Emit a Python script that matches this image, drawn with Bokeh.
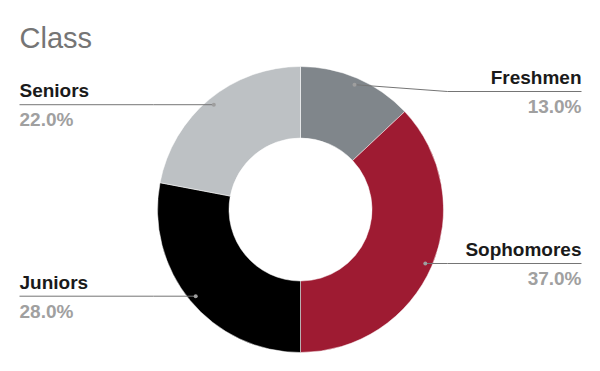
import math
from bokeh.plotting import figure
from bokeh.models import Range1d, ColumnDataSource
from bokeh.core.properties import value
from bokeh.embed import file_html
from bokeh.resources import INLINE

# ---- data ----
classes = ["Freshmen", "Sophomores", "Juniors", "Seniors"]
shares = [13.0, 37.0, 28.0, 22.0]
colors = ["#80868b", "#9e1b32", "#000000", "#bdc1c4"]
title_text = "Class"

# ---- layout ----
W, H = 600, 371
cx, cy_screen = 300, 209
cy = H - cy_screen
R_out, R_in = 143, 71.5
R_dot = 136
left_x, right_x = 19, 581
min_label_y_screen = 91
FONT = "Liberation Sans"

p = figure(width=W, height=H, output_backend="svg", toolbar_location=None,
           x_range=Range1d(0, W), y_range=Range1d(0, H),
           x_axis_location=None, y_axis_location=None, min_border=0)
p.grid.visible = False
p.outline_line_color = None
p.background_fill_color = "white"

total = sum(shares)
starts, ends, mids = [], [], []
acc = 0.0
for s in shares:
    a0 = math.pi / 2 - 2 * math.pi * acc / total
    acc += s
    a1 = math.pi / 2 - 2 * math.pi * acc / total
    starts.append(a0)
    ends.append(a1)
    mids.append((a0 + a1) / 2)

src = ColumnDataSource(dict(start=starts, end=ends, color=colors))
p.annular_wedge(x=cx, y=cy, inner_radius=R_in, outer_radius=R_out,
                start_angle="start", end_angle="end", direction="clock",
                color="color", line_color="white", line_width=0.5, source=src)

dots_x, dots_y = [], []
lx, ly, names, pcts, aligns = [], [], [], [], []
for name, s, m in zip(classes, shares, mids):
    dx = R_dot * math.cos(m)
    dy = R_dot * math.sin(m)
    px, py = cx + dx, cy + dy
    dots_x.append(px)
    dots_y.append(py)
    py_screen = H - py
    lab_y = H - max(py_screen, min_label_y_screen)
    right = dx > 0
    elbow_x = cx + (R_out + 4) if right else cx - (R_out + 4)
    end_x = right_x if right else left_x
    p.line([px, elbow_x, end_x], [py, lab_y, lab_y], line_color="#757575", line_width=1)
    lx.append(end_x)
    ly.append(lab_y)
    names.append(name)
    pcts.append(f"{s:.1f}%")
    aligns.append("right" if right else "left")

p.scatter(dots_x, dots_y, size=4, color="#9e9e9e", line_color=None)

name_y = [y + 14 for y in ly]
pct_y = [y - 15 for y in ly]
lab_src = ColumnDataSource(dict(x=lx, ny=name_y, py=pct_y, name=names, pct=pcts, align=aligns))
p.text(x="x", y="ny", text="name", text_align="align", text_baseline="alphabetic",
       text_font=value(FONT), text_font_style="bold",
       text_font_size="19px", text_color="#1a1a1a", source=lab_src)
p.text(x="x", y="py", text="pct", text_align="align", text_baseline="alphabetic",
       text_font=value(FONT), text_font_style="bold",
       text_font_size="19px", text_color="#a0a0a0", source=lab_src)

p.text(x=[19], y=[H - 37], text=[title_text], text_align="left", text_baseline="alphabetic",
       text_font=value(FONT), text_font_size="29px", text_color="#757575")

open("out.html", "w").write(file_html(p, INLINE))
